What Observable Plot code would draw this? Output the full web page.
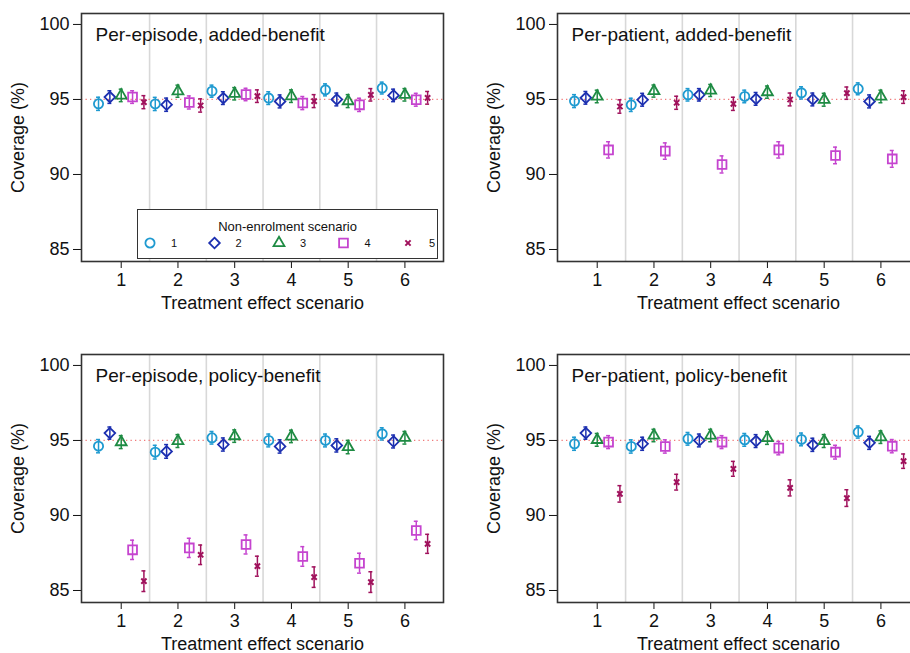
<!DOCTYPE html>
<html><head><meta charset="utf-8">
<script src="https://cdn.jsdelivr.net/npm/d3@7"></script>
<script src="https://cdn.jsdelivr.net/npm/@observablehq/plot@0.6"></script>
<style>
html,body{margin:0;padding:0;background:#fff;overflow:hidden;}
#fig{position:relative;width:910px;height:653px;overflow:hidden;font-family:"Liberation Sans",Arial,sans-serif;}
.panel{position:absolute;width:455px;height:320px;}
.panel svg{max-width:none !important;}
.legend{position:absolute;left:137px;top:209px;width:299px;height:48px;border:1px solid #333;background:#fff;}
.legend .ttl{position:absolute;left:0;right:0;top:9px;text-align:center;font-size:13px;color:#111;}
</style></head><body><div id="fig"></div>
<script>
const treatmentScenarios = [1, 2, 3, 4, 5, 6];
const enrolScenarios = [1, 2, 3, 4, 5];
const groupSeparators = [1.5, 2.5, 3.5, 4.5, 5.5];
const yTicks = [85, 90, 95, 100];
const nominalCoverage = 95;
const nSims = 10000;

const scenarioColors = ["#1f9ad0", "#1c2fb0", "#1e8b43", "#c544cf", "#a0115c"];
const scenarioSymbols = ["circle", "diamond2", "triangle2", "square2", "times"];
const scenarioRadii = [4.6, 4.8, 5.2, 5.6, 2.5];

const panelTitles = ["Per-episode, added-benefit", "Per-patient, added-benefit", "Per-episode, policy-benefit", "Per-patient, policy-benefit"];

// rows: non-enrolment scenario 1..5; columns: treatment effect scenario 1..6
const perEpisodeAdded = [
  [94.71, 94.70, 95.55, 95.09, 95.64, 95.76],
  [95.16, 94.65, 95.09, 94.87, 95.00, 95.27],
  [95.27, 95.55, 95.38, 95.22, 94.89, 95.31],
  [95.16, 94.80, 95.33, 94.76, 94.64, 94.98],
  [94.82, 94.60, 95.22, 94.89, 95.31, 95.11]
];
const perPatientAdded = [
  [94.89, 94.64, 95.31, 95.20, 95.44, 95.71],
  [95.11, 94.98, 95.31, 95.04, 95.00, 94.87],
  [95.20, 95.56, 95.60, 95.49, 94.98, 95.20],
  [91.64, 91.56, 90.67, 91.64, 91.27, 91.04],
  [94.53, 94.78, 94.71, 95.00, 95.42, 95.16]
];
const perEpisodePolicy = [
  [94.62, 94.22, 95.18, 95.00, 95.00, 95.44],
  [95.49, 94.27, 94.73, 94.60, 94.67, 94.93],
  [94.89, 94.96, 95.29, 95.27, 94.56, 95.18],
  [87.71, 87.84, 88.07, 87.27, 86.82, 89.00],
  [85.62, 87.38, 86.62, 85.89, 85.56, 88.11]
];
const perPatientPolicy = [
  [94.78, 94.60, 95.11, 95.04, 95.07, 95.56],
  [95.49, 94.78, 95.00, 94.96, 94.71, 94.84],
  [95.04, 95.33, 95.33, 95.16, 94.96, 95.22],
  [94.89, 94.60, 94.89, 94.49, 94.22, 94.62],
  [91.44, 92.22, 93.11, 91.84, 91.16, 93.62]
];

const panelData = [perEpisodeAdded, perPatientAdded, perEpisodePolicy, perPatientPolicy];
const panelPos = [[0, 0], [476, 0], [0, 341], [476, 341]];

function rows(matrix) {
  const out = [];
  enrolScenarios.forEach((s, i) => treatmentScenarios.forEach((t, j) => {
    const p = matrix[i][j];
    const h = 1.96 * Math.sqrt(p * (100 - p) / nSims);
    out.push({s, t, pos: t + (s - 3) * 0.2, p, lo: p - h, hi: p + h});
  }));
  return out;
}

const fig = document.getElementById("fig");
panelData.forEach((m, k) => {
  const data = rows(m);
  const marks = [
    Plot.ruleX(groupSeparators, {stroke: "#d8d8d8", strokeWidth: 1.6}),
    Plot.ruleY([nominalCoverage], {stroke: "#f07a7a", strokeWidth: 1.3, strokeDasharray: "1.3,3.2"})
  ];
  enrolScenarios.forEach((s, i) => {
    const d = data.filter(r => r.s === s);
    const c = scenarioColors[i];
    marks.push(Plot.ruleX(d, {x: "pos", y1: "lo", y2: "hi", stroke: c, strokeWidth: 1.5}));
    marks.push(Plot.ruleY(d, {y: "lo", x1: r => r.pos - 0.035, x2: r => r.pos + 0.035, stroke: c, strokeWidth: 1.5}));
    marks.push(Plot.ruleY(d, {y: "hi", x1: r => r.pos - 0.035, x2: r => r.pos + 0.035, stroke: c, strokeWidth: 1.5}));
    marks.push(Plot.dot(d, {x: "pos", y: "p", symbol: () => scenarioSymbols[i], stroke: c, fill: "none", r: scenarioRadii[i], strokeWidth: s === 5 ? 2.0 : 1.8}));
  });
  marks.push(Plot.text([panelTitles[k]], {frameAnchor: "top-left", dx: 14, dy: 21, lineAnchor: "middle", textAnchor: "start", fontSize: 19, fill: "#111"}));
  marks.push(Plot.frame({stroke: "#333", strokeWidth: 1.6}));
  const chart = Plot.plot({
    width: 455, height: 320,
    marginLeft: 81, marginRight: 12, marginTop: 13, marginBottom: 59,
    style: {fontFamily: "'Liberation Sans', Arial, sans-serif", fontSize: "18px", color: "#111", background: "transparent", overflow: "visible", maxWidth: "none"},
    x: {domain: [0.3, 6.68], ticks: treatmentScenarios, tickFormat: "d", tickSize: 7, tickPadding: 5, label: "Treatment effect scenario", labelAnchor: "center", labelOffset: 47, labelArrow: "none"},
    y: {domain: [84.2, 100.73], ticks: yTicks, tickSize: 8, tickPadding: 4, label: "Coverage (%)", labelAnchor: "center", labelOffset: 70, labelArrow: "none"},
    symbol: {type: "identity"},
    marks
  });
  const div = document.createElement("div");
  div.className = "panel";
  div.style.left = panelPos[k][0] + "px";
  div.style.top = panelPos[k][1] + "px";
  div.appendChild(chart);
  fig.appendChild(div);
});

// legend in first panel
const leg = document.createElement("div");
leg.className = "legend";
leg.innerHTML = '<div class="ttl">Non-enrolment scenario</div>';
fig.appendChild(leg);
const lsvg = d3.select(leg).append("svg").attr("width", 299).attr("height", 48).style("position", "absolute").style("left", 0).style("top", 0);
const symMap = {circle: d3.symbolCircle, diamond2: d3.symbolDiamond2, triangle2: d3.symbolTriangle2, square2: d3.symbolSquare2, times: d3.symbolTimes};
enrolScenarios.forEach((s, i) => {
  const cx = 12 + i * 64.5;
  const g = lsvg.append("g").attr("transform", `translate(${cx},33)`);
  const r = scenarioRadii[i];
  g.append("path").attr("d", d3.symbol(symMap[scenarioSymbols[i]], Math.PI * r * r)()).attr("fill", "none").attr("stroke", scenarioColors[i]).attr("stroke-width", s === 5 ? 2.0 : 1.8);
  lsvg.append("text").attr("x", cx + 21).attr("y", 37).attr("font-size", 11).attr("fill", "#111").attr("font-family", "'Liberation Sans', Arial, sans-serif").text(s);
});
</script></body></html>
